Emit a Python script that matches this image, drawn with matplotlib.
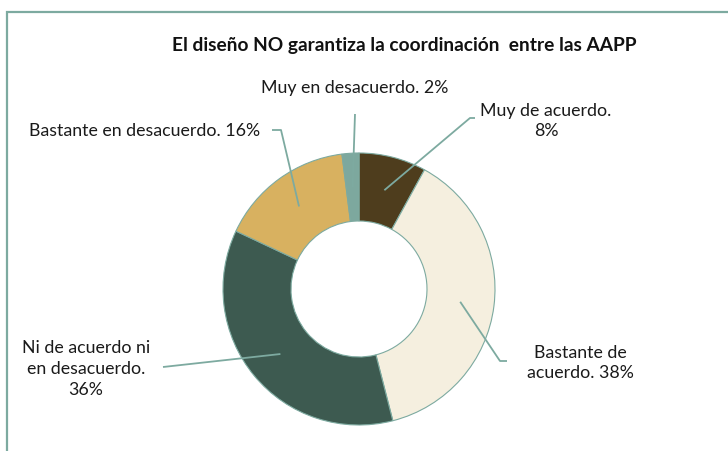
import matplotlib
matplotlib.use("Agg")
import matplotlib.pyplot as plt
import numpy as np

# Data
categories = ["Muy de acuerdo", "Bastante de acuerdo", "Ni de acuerdo ni en desacuerdo",
              "Bastante en desacuerdo", "Muy en desacuerdo"]
values = [8, 38, 36, 16, 2]
labels = ["Muy de acuerdo.\n8%", "Bastante de\nacuerdo. 38%",
          "Ni de acuerdo ni\nen desacuerdo.\n36%", "Bastante en desacuerdo. 16%",
          "Muy en desacuerdo. 2%"]
colors = ["#4E3D1D", "#F5EFDF", "#3D5A50", "#D8B160", "#7DA89E"]
title = "El diseño NO garantiza la coordinación  entre las AAPP"

W, H = 728, 452
FONT = "Lato"
LINE = "#7DAAA0"

fig = plt.figure(figsize=(W / 100, H / 100), dpi=100)
ax = fig.add_axes([0, 0, 1, 1])

def Y(py):
    return H - py

cx, cy, R = 359, Y(290), 136
wedges, _ = ax.pie(values, colors=colors, startangle=90, counterclock=False,
                   radius=R, center=(cx, cy), frame=True,
                   wedgeprops=dict(width=R * 0.5, edgecolor=LINE, linewidth=0.8))
ax.set_xlim(0, W)
ax.set_ylim(0, H)
ax.set_aspect("equal")
ax.axis("off")

# label layout (pixel coords): text center, leader start points
layout = [
    dict(text=(546, 121), lead=[(475, 119), (470, 119)]),
    dict(text=(580, 363), lead=[(507, 362), (500, 362)]),
    dict(text=(86, 369), lead=[(163, 368)]),
    dict(text=(145, 131), lead=[(272, 131), (281, 131)]),
    dict(text=(355, 88), lead=[(355, 115)]),
]

rmid = R * 0.75
for w, lab, lay in zip(wedges, labels, layout):
    mid = np.deg2rad((w.theta1 + w.theta2) / 2)
    ex, ey = cx + rmid * np.cos(mid), cy + rmid * np.sin(mid)
    xs = [p[0] for p in lay["lead"]] + [ex]
    ys = [Y(p[1]) for p in lay["lead"]] + [ey]
    ax.plot(xs, ys, color=LINE, lw=1.3, zorder=5, solid_capstyle="butt")
    ax.text(lay["text"][0], Y(lay["text"][1]), lab, ha="center", va="center",
            fontsize=12.8, family=FONT, color="#1a1a1a", linespacing=1.35,
            multialignment="center")

ax.text(404, Y(45), title, ha="center", va="center", fontsize=13.8,
        fontweight="bold", family=FONT, color="#111111")

# border
ax.plot([6.5, 6.5, W + 5], [-5, Y(12.5), Y(12.5)], color=LINE, lw=1.6,
        clip_on=False, solid_joinstyle="miter")

fig.savefig("out.png", dpi=100)
